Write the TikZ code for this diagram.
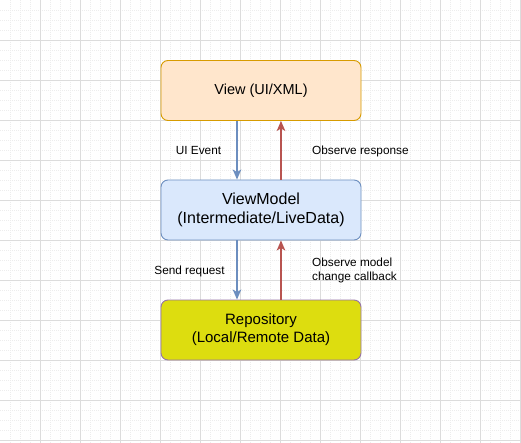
\documentclass[tikz,border=0pt]{standalone}
\usepackage{fontspec}
\setmainfont{Liberation Sans}
\usetikzlibrary{arrows.meta}
\definecolor{gridminor}{HTML}{EDEDED}
\definecolor{gridmajor}{HTML}{DCDCDC}
\definecolor{vfill}{HTML}{FFE6CC}
\definecolor{vstroke}{HTML}{D79B00}
\definecolor{vmfill}{HTML}{DAE8FC}
\definecolor{vmstroke}{HTML}{6C8EBF}
\definecolor{rfill}{HTML}{DDDD0F}
\definecolor{rstroke}{HTML}{9673A6}
\definecolor{redarr}{HTML}{B85450}
\tikzset{
  box/.style={draw, rounded corners=7pt, minimum width=200pt, minimum height=60pt, align=center, inner sep=0pt, line width=0.9pt},
  lbl/.style={font=\fontsize{11.8}{13.5}\selectfont, inner sep=0pt, align=left},
  arr/.style={line width=1.6pt, -{Stealth[length=10pt,width=8.5pt,inset=2.5pt]}},
  minorline/.style={gridminor, line width=0.6pt, dash pattern=on 1pt off 1pt},
  majorline/.style={gridmajor, line width=0.7pt}
}
\begin{document}
\begin{tikzpicture}[x=1pt,y=-1pt]
\useasboundingbox (0,0) rectangle (521,443);
\fill[white] (0,0) rectangle (521,443);
\foreach \i in {10,20,...,520} \draw[minorline] (\i,0) -- (\i,443);
\foreach \j in {10,20,...,440} \draw[minorline] (0,\j) -- (521,\j);
\foreach \i in {40,80,...,520} \draw[majorline] (\i,0) -- (\i,443);
\foreach \j in {40,80,...,440} \draw[majorline] (0,\j) -- (521,\j);

\node[box, fill=vfill, draw=vstroke, font=\fontsize{14.5}{17}\selectfont] (view) at (261,90.5) {View (UI/XML)};
\node[box, fill=vmfill, draw=vmstroke, font=\fontsize{16}{19.5}\selectfont] (vm) at (261,210) {ViewModel\\(Intermediate/LiveData)};
\node[box, fill=rfill, draw=rstroke, font=\fontsize{15}{18}\selectfont] (repo) at (261,330) {Repository\\(Local/Remote Data)};

\draw[arr, vmstroke] ([xshift=-24pt]view.south) -- ([xshift=-24pt]vm.north);
\draw[arr, redarr] ([xshift=20pt]vm.north) -- ([xshift=20pt]view.south);
\draw[arr, vmstroke] ([xshift=-24pt]vm.south) -- ([xshift=-24pt]repo.north);
\draw[arr, redarr] ([xshift=20pt]repo.north) -- ([xshift=20pt]vm.south);

\node[lbl] (l1) at (198.5,151) {UI Event};
\node[lbl, anchor=west] (l2) at (312,151) {Observe response};
\node[lbl] (l3) at (189.5,271) {Send request};
\node[lbl, anchor=west] (l4) at (312,270.5) {Observe model\\change callback};
\end{tikzpicture}
\end{document}
